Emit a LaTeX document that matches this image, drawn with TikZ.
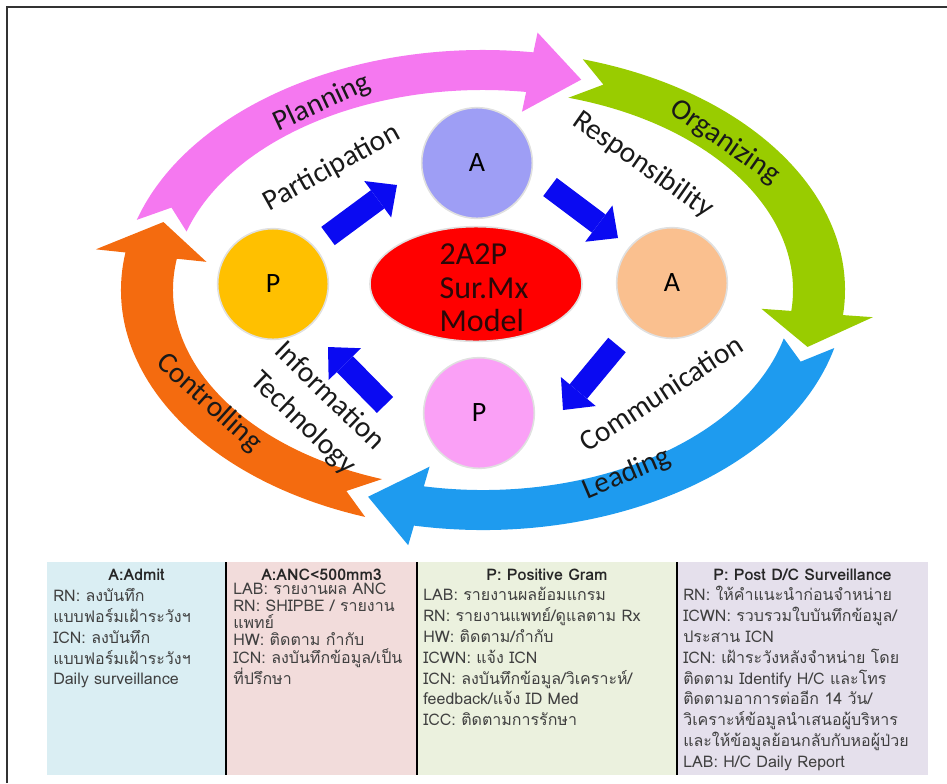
\documentclass[tikz,border=0pt]{standalone}
\usepackage{fontspec}
\usepackage{tikz}
\usetikzlibrary{arrows.meta,shapes.geometric,calc}
\newfontfamily\lblfont{Carlito}
\newfontfamily\thaifont[Script=Thai]{Loma}
\definecolor{cplan}{HTML}{F578F0}
\definecolor{corg}{HTML}{99CC00}
\definecolor{clead}{HTML}{1E9BEF}
\definecolor{cctrl}{HTML}{F46B0F}
\definecolor{cblk}{HTML}{0A0AF2}
\definecolor{catop}{HTML}{9E9EF5}
\definecolor{cpleft}{HTML}{FFC000}
\definecolor{caright}{HTML}{FAC08F}
\definecolor{cpbot}{HTML}{FAA0F6}
\definecolor{ccore}{HTML}{FF0000}
\definecolor{ccoretxt}{HTML}{2A0808}
\definecolor{tbA}{HTML}{DAEEF3}
\definecolor{tbB}{HTML}{F2DCDB}
\definecolor{tbC}{HTML}{EBF1DE}
\definecolor{tbD}{HTML}{E5E0EC}

\begin{document}
\begin{tikzpicture}[x=0.75pt,y=-0.75pt,
 ball/.style={circle,draw=black!12,line width=1.2pt,minimum size=83pt,inner sep=0pt,font=\lblfont\fontsize{21}{25}\selectfont},
 core/.style={ellipse,fill=ccore,draw=black!12,line width=1.2pt,minimum width=159pt,minimum height=86pt},
 lbl/.style={font=\lblfont\fontsize{22}{28.5}\selectfont,align=center,text=black!90},
 blk/.style={draw=cblk,line width=17pt,-{Triangle[length=18pt,width=34pt,line width=0pt]}},
 col/.style={anchor=north west,inner sep=0pt,outer sep=0pt,minimum height=159.75pt},
 head/.style={anchor=base,text=black!85,font=\thaifont\fontsize{12}{15.4}\selectfont\bfseries},
 body/.style={anchor=north west,inner sep=0pt,align=left,text=black!75,font=\thaifont\fontsize{12}{15.65}\selectfont}]
\useasboundingbox (0,0) rectangle (947,783);
\draw[black!80,line width=1.5pt] (7,783) -- (7,7) -- (947,7);
\begin{scope}[shift={(483,290)}]
\foreach \ta/\tb/\tc/\col in {-163/-82/-73/cplan,-74/6/15/corg,14/101/110/clead,109/189/198/cctrl}
 \fill[\col] (\ta:362 and 240) arc[start angle=\ta,end angle=\tb,x radius=362,y radius=240] -- (\tb:392 and 260) -- (\tc:336 and 220) -- (\tb:280 and 180) -- (\tb:310 and 200) arc[start angle=\tb,end angle=\ta,x radius=310,y radius=200] -- ({\ta+5}:336 and 220) -- cycle;
\end{scope}
\node[ball,fill=catop] (atop) at (477,163) {A};
\node[ball,fill=cpleft] (pleft) at (273,284) {P};
\node[ball,fill=caright] (aright) at (672,283) {A};
\node[ball,fill=cpbot] (pbot) at (479,413) {P};
\node[core] (core) at (476,284) {};
\node[align=left,font=\lblfont\fontsize{24}{25}\selectfont,text=ccoretxt] (coretxt) at (484,288) {2A2P\\Sur.Mx\\Model};
\draw[blk] ($(pleft)+(55,-48)$) -- ($(atop)+(-80,22)$);
\draw[blk] ($(atop)+(73,24)$) -- ($(aright)+(-54,-45)$);
\draw[blk] ($(aright)+(-55,62)$) -- ($(pbot)+(84,-3)$);
\draw[blk] ($(pbot)+(-94,-8)$) -- ($(pleft)+(55,63)$);
\node[lbl,rotate=25] (lplan) at (322,103) {Planning};
\node[lbl,rotate=-35] (lorg) at (725,142) {Organizing};
\node[lbl,rotate=23] (llead) at (627,474) {Leading};
\node[lbl,rotate=-42] (lctrl) at (209,403) {Controlling};
\node[lbl,rotate=29] (lpart) at (332,168) {Participation};
\node[lbl,rotate=-35] (lresp) at (643,165) {Responsibility};
\node[lbl,rotate=33] (lcomm) at (661,393) {Communication};
\node[lbl,rotate=-44] (linfo) at (316,410) {Information\\Technology};
\foreach \id/\x/\w/\f in {c1/47/134.25/tbA,c2/226/143.25/tbB,c3/417/195/tbC,c4/677/188.25/tbD}
 \node[col,minimum width=\w pt,fill=\f] (\id) at (\x,562) {};
\foreach \id in {c2,c3,c4}
 \draw[line width=1.2pt] (\id.north west) -- (\id.south west);
\node[head] (h1) at (c1.center |- 0,580) {A:Admit};
\node[head] (h2) at (c2.center |- 0,580) {A:ANC<500mm3};
\node[head] (h3) at (c3.center |- 0,580) {P: Positive Gram};
\node[head] (h4) at (c4.center |- 0,580) {P: Post D/C Surveillance};
\node[body] (t1) at (53,588) {RN: ลงบันทึก\\แบบฟอร์มเฝ้าระวังฯ\\ICN: ลงบันทึก\\แบบฟอร์มเฝ้าระวังฯ\\Daily surveillance};
\node[body,font=\thaifont\fontsize{12}{12.8}\selectfont] (t2) at (233,583) {LAB: รายงานผล ANC\\RN: SHIPBE / รายงาน\\แพทย์\\HW: ติดตาม กำกับ\\ICN: ลงบันทึกข้อมูล/เป็น\\ที่ปรึกษา};
\node[body] (t3) at (423,587) {LAB: รายงานผลย้อมแกรม\\RN: รายงานแพทย์/ดูแลตาม Rx\\HW: ติดตาม/กำกับ\\ICWN: แจ้ง ICN\\ICN: ลงบันทึกข้อมูล/วิเคราะห์/\\feedback/แจ้ง ID Med\\ICC: ติดตามการรักษา};
\node[body] (t4) at (683,586) {RN: ให้คำแนะนำก่อนจำหน่าย\\ICWN: รวบรวมใบบันทึกข้อมูล/\\ประสาน ICN\\ICN: เฝ้าระวังหลังจำหน่าย โดย\\ติดตาม Identify H/C และโทร\\ติดตามอาการต่ออีก 14 วัน/\\วิเคราะห์ข้อมูลนำเสนอผู้บริหาร\\และให้ข้อมูลย้อนกลับกับหอผู้ป่วย\\LAB: H/C Daily Report};
\end{tikzpicture}
\end{document}
